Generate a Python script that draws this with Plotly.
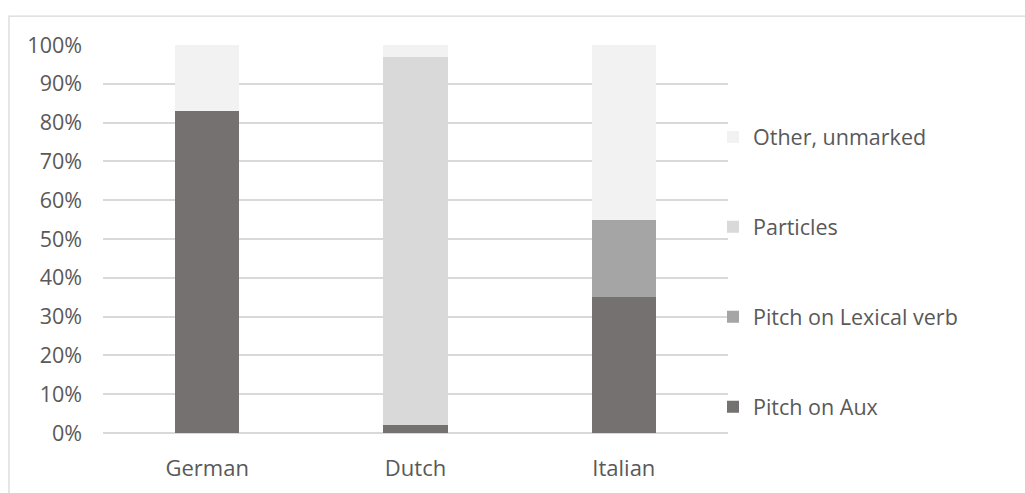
import plotly.graph_objects as go

categories = ["German", "Dutch", "Italian"]
pitch_aux = [83, 2, 35]
pitch_lexical = [0, 0, 20]
particles = [0, 95, 0]
other_unmarked = [17, 3, 45]

series = [
    ("Pitch on Aux", pitch_aux, "#767171"),
    ("Pitch on Lexical verb", pitch_lexical, "#a5a5a5"),
    ("Particles", particles, "#d9d9d9"),
    ("Other, unmarked", other_unmarked, "#f2f2f2"),
]

FONT = "Open Sans"
TXT = "#595959"

fig = go.Figure()
n = len(series)
for i, (name, vals, color) in enumerate(series):
    fig.add_trace(go.Bar(
        x=categories, y=[v / 100 for v in vals], name=name,
        marker=dict(color=color, line=dict(width=0)),
        legendgroup=f"g{i}", legendrank=n - i,
    ))

W, H = 1025, 493
L, R, T, B = 103, 728, 44.5, 433
pw, ph = R - L, B - T

def px(x):
    return (x - L) / pw

def py(y):
    return (B - y) / ph

fig.update_layout(
    width=W, height=H,
    margin=dict(l=L, r=W - R, t=T, b=H - B, autoexpand=False),
    barmode="stack", bargap=0.69,
    plot_bgcolor="white", paper_bgcolor="white",
    font=dict(family=FONT, size=21.5, color=TXT),
    showlegend=True,
    legend=dict(
        traceorder="grouped", tracegroupgap=59,
        x=px(713), xanchor="left", y=py(116), yanchor="top",
        font=dict(family=FONT, size=21.5, color=TXT),
        bgcolor="rgba(0,0,0,0)",
    ),
    xaxis=dict(showgrid=False, showline=False, ticks="", ticklabelstandoff=20,
               tickfont=dict(family=FONT, size=22, color=TXT)),
    yaxis=dict(range=[0, 1], dtick=0.1, tickformat=".0%", showgrid=True,
               gridcolor="#d9d9d9", gridwidth=1.5, zeroline=True,
               zerolinecolor="#d9d9d9", zerolinewidth=1.5, showline=False,
               ticks="", ticklabelstandoff=20,
               tickfont=dict(family=FONT, size=21.5, color=TXT)),
    shapes=[dict(type="rect", xref="paper", yref="paper",
                 x0=px(9), x1=px(1030), y0=py(15.5), y1=py(520),
                 line=dict(color="#d9d9d9", width=1.3), layer="below")],
)

fig.write_html("out.html")
